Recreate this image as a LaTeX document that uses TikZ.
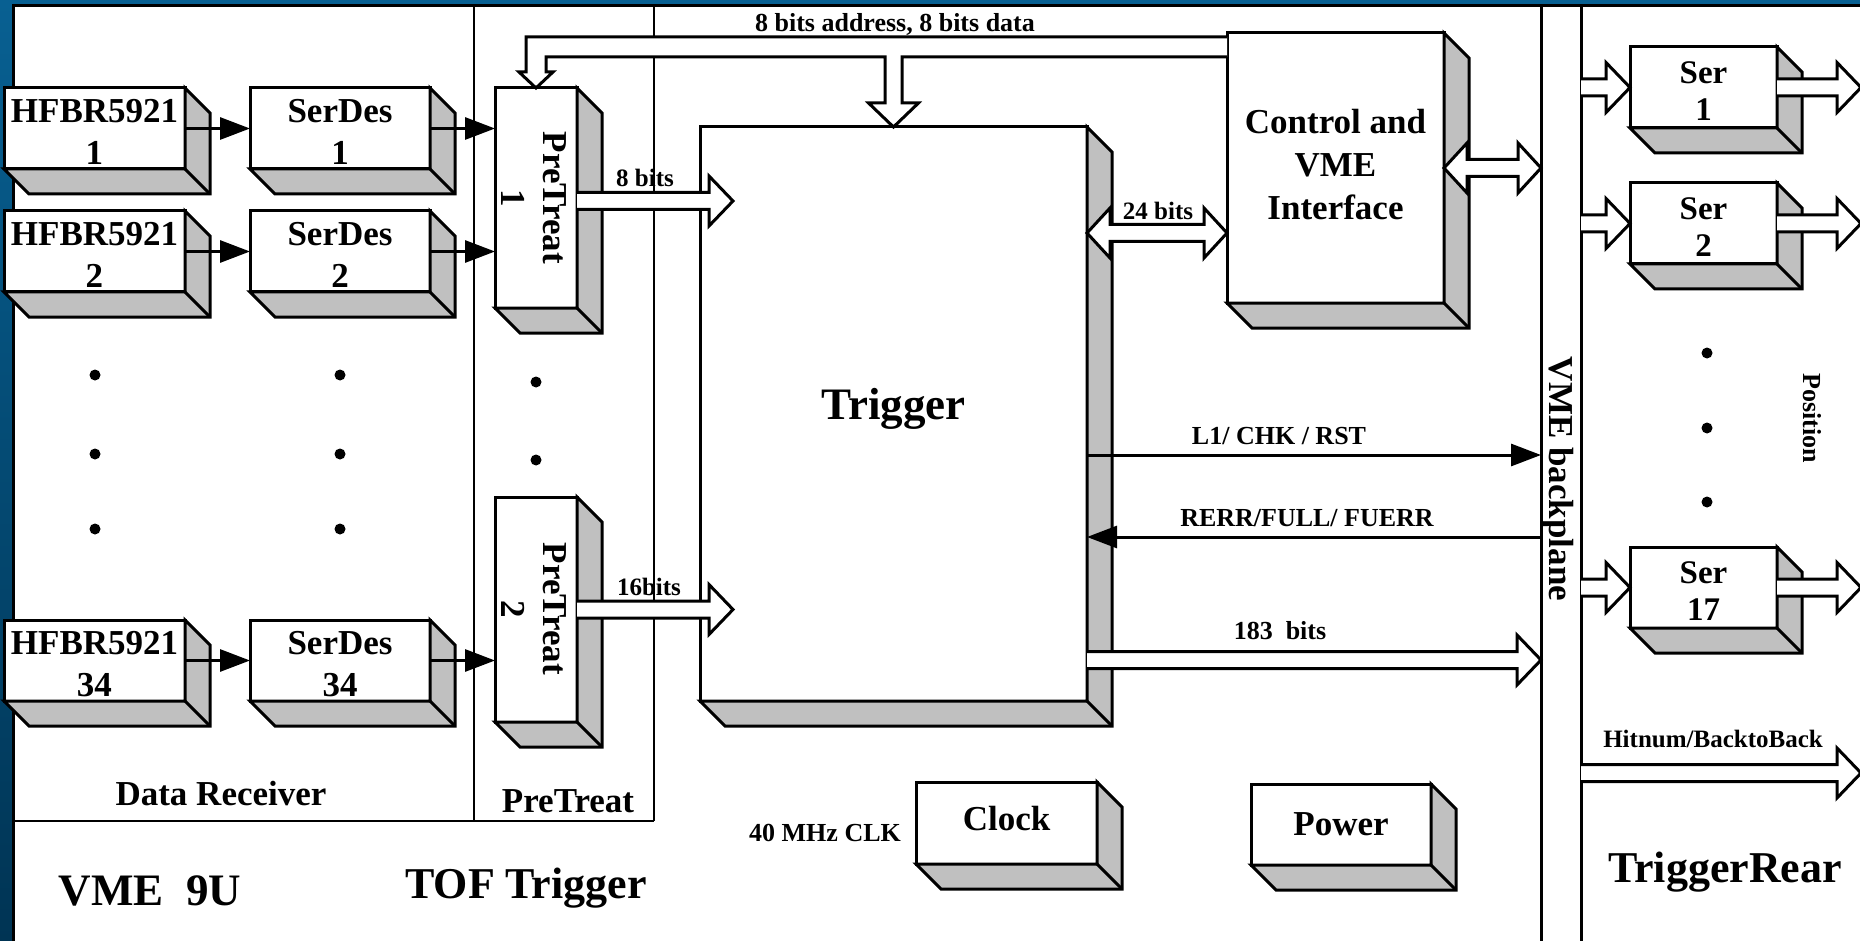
\documentclass[tikz,border=0pt]{standalone}
\usepackage{fontspec}
\setmainfont{Liberation Serif}
\usetikzlibrary{arrows.meta,calc}
\definecolor{bgtop}{RGB}{8,96,146}
\definecolor{bgbot}{RGB}{0,52,84}
\definecolor{depthgray}{RGB}{192,192,192}
\newcommand{\fsz}[2]{\fontsize{#1}{#2}\selectfont\bfseries}

\tikzset{
 box/.style={draw=black,line width=3pt,fill=white,rectangle,inner sep=0pt,outer sep=0pt,anchor=north west,align=center},
 rxbox/.style={box,minimum width=181pt,minimum height=81pt,font=\fsz{35}{42},text height=72pt,text depth=0pt},
 serbox/.style={box,minimum width=147pt,minimum height=81pt,font=\fsz{33}{37},text height=66pt,text depth=0pt},
 depthface/.style={fill=depthgray,draw=black,line width=3pt,line join=miter},
 thinarrow/.style={line width=3pt,-{Triangle[length=30pt,width=22pt]}},
 blockarrow/.style={fill=white,draw=black,line width=3pt,line join=miter},
 regionline/.style={line width=2.5pt},
 frameline/.style={line width=3pt},
 lbl/.style={inner sep=0pt,anchor=base,font=\fsz{26}{30}},
 smalllbl/.style={inner sep=0pt,anchor=base,font=\fsz{25}{30}},
 biglbl/.style={inner sep=0pt,anchor=base,font=\fsz{44}{50}},
 midlbl/.style={inner sep=0pt,anchor=base,font=\fsz{35}{42}},
 rotlbl/.style={rotate=-90,inner sep=0pt,align=center,font=\fsz{35}{42}},
 dot/.style={fill=black},
}

\newcommand{\boxdepth}[1]{%
 \draw[depthface] (#1.north east) -- ++(25,25) -- ($(#1.south east)+(25,25)$) -- ($(#1.south west)+(25,25)$) -- (#1.south west) -- (#1.south east) -- cycle;
 \draw[line width=3pt] (#1.south east) -- ++(25,25);}

\newcommand{\barR}[2]{%
 \filldraw[blockarrow] let \p1=#1, \p2=#2 in
 (\x1,\y2+8.5pt) -- (\x2-24pt,\y2+8.5pt) -- (\x2-24pt,\y2+25pt) -- (\x2,\y2) -- (\x2-24pt,\y2-25pt) -- (\x2-24pt,\y2-8.5pt) -- (\x1,\y2-8.5pt);}

\newcommand{\barLR}[2]{%
 \filldraw[blockarrow] let \p1=#1, \p2=#2 in
 (\x1,\y1) -- (\x1+23pt,\y1+25pt) -- (\x1+23pt,\y1+8.5pt) -- (\x2-23pt,\y1+8.5pt) -- (\x2-23pt,\y1+25pt) -- (\x2,\y1) -- (\x2-23pt,\y1-25pt) -- (\x2-23pt,\y1-8.5pt) -- (\x1+23pt,\y1-8.5pt) -- (\x1+23pt,\y1-25pt) -- cycle;}

\begin{document}
\begin{tikzpicture}[x=1pt,y=-1pt]
\useasboundingbox (0,0) rectangle (1860,941);
\shade[top color=bgtop,bottom color=bgbot] (0,0) rectangle (1860,941);
\fill[white] (13,6) rectangle (1860,941);
\draw[frameline] (13,941) -- (13,6) -- (1860,6);
% regions
\draw[regionline] (474,6) -- (474,821);
\draw[regionline] (654,6) -- (654,821);
\draw[regionline] (13,821) -- (654,821);
% backplane
\node[draw=none,inner sep=0pt,outer sep=0pt,minimum width=40pt,minimum height=935pt,anchor=north west] (bp) at (1541,6) {};
\draw[frameline] (bp.north west) -- (bp.south west);
\draw[frameline] (bp.north east) -- (bp.south east);
\node[rotlbl] (bplabel) at (1558,479) {VME backplane};

% data receivers
\node[rxbox] (h1) at (4,88) {HFBR5921\\1}; \boxdepth{h1}
\node[rxbox] (h2) at (4,211) {HFBR5921\\2}; \boxdepth{h2}
\node[rxbox] (h34) at (4,620) {HFBR5921\\34}; \boxdepth{h34}
\node[rxbox,minimum width=180pt] (s1) at (250,88) {SerDes\\1}; \boxdepth{s1}
\node[rxbox,minimum width=180pt] (s2) at (250,211) {SerDes\\2}; \boxdepth{s2}
\node[rxbox,minimum width=180pt] (s34) at (250,620) {SerDes\\34}; \boxdepth{s34}

% pretreat
\node[box,minimum width=82pt,minimum height=220pt] (pt1) at (495,88) {}; \boxdepth{pt1}
\node[rotlbl] (pt1text) at (534,198) {PreTreat\\1};
\node[box,minimum width=82pt,minimum height=225pt] (pt2) at (495,497) {}; \boxdepth{pt2}
\node[rotlbl] (pt2text) at (534,609) {PreTreat\\2};

% trigger, control
\node[box,minimum width=387pt,minimum height=574pt,font=\fsz{45}{50},text height=31pt,text depth=21pt] (trig) at (700,127) {Trigger}; \boxdepth{trig}
\node[box,minimum width=217pt,minimum height=270pt,font=\fsz{35}{43},text height=103pt,text depth=0pt] (ctrl) at (1227,33) {Control and\\VME\\Interface}; \boxdepth{ctrl}

% clock, power
\node[box,minimum width=181pt,minimum height=82pt,font=\fsz{35}{42},text height=24pt,text depth=10pt] (clk) at (916,782) {Clock}; \boxdepth{clk}
\node[box,minimum width=180pt,minimum height=81pt,font=\fsz{35}{42},text height=24pt,text depth=2pt] (pwr) at (1251,784) {Power}; \boxdepth{pwr}

% rear serializers
\node[serbox] (ser1) at (1630,47) {Ser\\1}; \boxdepth{ser1}
\node[serbox] (ser2) at (1630,183) {Ser\\2}; \boxdepth{ser2}
\node[serbox] (ser17) at (1630,547) {Ser\\17}; \boxdepth{ser17}

% dots
\foreach \yy in {375,454,529} {
  \fill[dot] (95,\yy) circle (5.5pt);
  \fill[dot] (340,\yy) circle (5.5pt);
}
\fill[dot] (536,382) circle (5.5pt);
\fill[dot] (536,460) circle (5.5pt);
\foreach \yy in {353,428,502} { \fill[dot] (1707,\yy) circle (5.5pt); }

% thin arrows
\draw[thinarrow] (h1.east) -- (s1.west);
\draw[thinarrow] (h2.east) -- (s2.west);
\draw[thinarrow] (h34.east) -- (s34.west);
\draw[thinarrow] (s1.east) -- (s1.east -| pt1.west);
\draw[thinarrow] (s2.east) -- (s2.east -| pt1.west);
\draw[thinarrow] (s34.east) -- (s34.east -| pt2.west);
\coordinate (l1a) at ($(trig.east)+(0,41)$);
\draw[thinarrow] (l1a) -- (l1a -| bp.west);
\coordinate (rea) at ($(trig.east)+(0,123)$);
\draw[thinarrow] (rea -| bp.west) -- (rea);

% bus
\coordinate (busR) at ($(ctrl.north west)+(0,14)$);
\filldraw[blockarrow] let \p1=(busR), \p2=(pt1.north), \p3=(trig.north) in
 (\x1,\y1+10pt) -- (\x2-10pt,\y1+10pt) -- (\x2-10pt,\y2+16pt) -- (\x2-17pt,\y2+16pt) -- (\x2,\y2) -- (\x2+17pt,\y2+16pt) -- (\x2+10pt,\y2+16pt) -- (\x2+10pt,\y1-10pt) -- (\x3-8.5pt,\y1-10pt) -- (\x3-8.5pt,\y3+24pt) -- (\x3-25pt,\y3+24pt) -- (\x3,\y3) -- (\x3+25pt,\y3+24pt) -- (\x3+8.5pt,\y3+24pt) -- (\x3+8.5pt,\y1-10pt) -- (\x1,\y1-10pt);

% block arrows
\coordinate (b8a) at ($(pt1.east)+(0,3)$);
\barR{(b8a)}{($(b8a -| trig.west)+(33,0)$)}
\barR{(pt2.east)}{($(pt2.east -| trig.west)+(33,0)$)}
\coordinate (b24a) at ($(trig.north east)+(0,106)$);
\barLR{(b24a)}{(b24a -| ctrl.west)}
\barLR{(ctrl.east)}{(ctrl.east -| bp.west)}
\coordinate (b183a) at ($(trig.east)+(0,246)$);
\barR{(b183a)}{(b183a -| bp.west)}
\coordinate (redge) at (1861,0);
\barR{(ser1.west -| bp.east)}{(ser1.west)}
\barR{(ser2.west -| bp.east)}{(ser2.west)}
\barR{(ser17.west -| bp.east)}{(ser17.west)}
\barR{(ser1.east)}{(ser1.east -| redge)}
\barR{(ser2.east)}{(ser2.east -| redge)}
\barR{(ser17.east)}{(ser17.east -| redge)}
\coordinate (hita) at ($(bp.north east)+(0,767)$);
\barR{(hita)}{(hita -| redge)}

% labels
\node[lbl] (addrlbl) at (895,32) {8 bits address, 8 bits data};
\node[smalllbl] (b8lbl) at (645,187) {8 bits};
\node[smalllbl] (b16lbl) at (649,595) {16bits};
\node[smalllbl] (b24lbl) at (1158,220) {24 bits};
\node[lbl] (l1lbl) at (1279,444) {L1/ CHK / RST};
\node[lbl] (rerrlbl) at (1307,526) {RERR/FULL/ FUERR};
\node[lbl] (b183lbl) at (1280,639) {183~~bits};
\node[smalllbl] (hitlbl) at (1713,747) {Hitnum/BacktoBack};
\node[rotate=-90,inner sep=0pt,font=\fsz{26}{30}] (poslbl) at (1812,418) {Position};
\node[midlbl] (drlbl) at (221,805) {Data Receiver};
\node[midlbl] (ptlbl) at (568,812) {PreTreat};
\node[biglbl,font=\fsz{45}{50}] (vmelbl) at (150,905) {VME~~9U};
\node[biglbl] (toflbl) at (526,898) {TOF Trigger};
\node[biglbl] (trlbl) at (1725,882) {TriggerRear};
\node[lbl] (clklbl) at (825,841) {40 MHz CLK};
\end{tikzpicture}
\end{document}
